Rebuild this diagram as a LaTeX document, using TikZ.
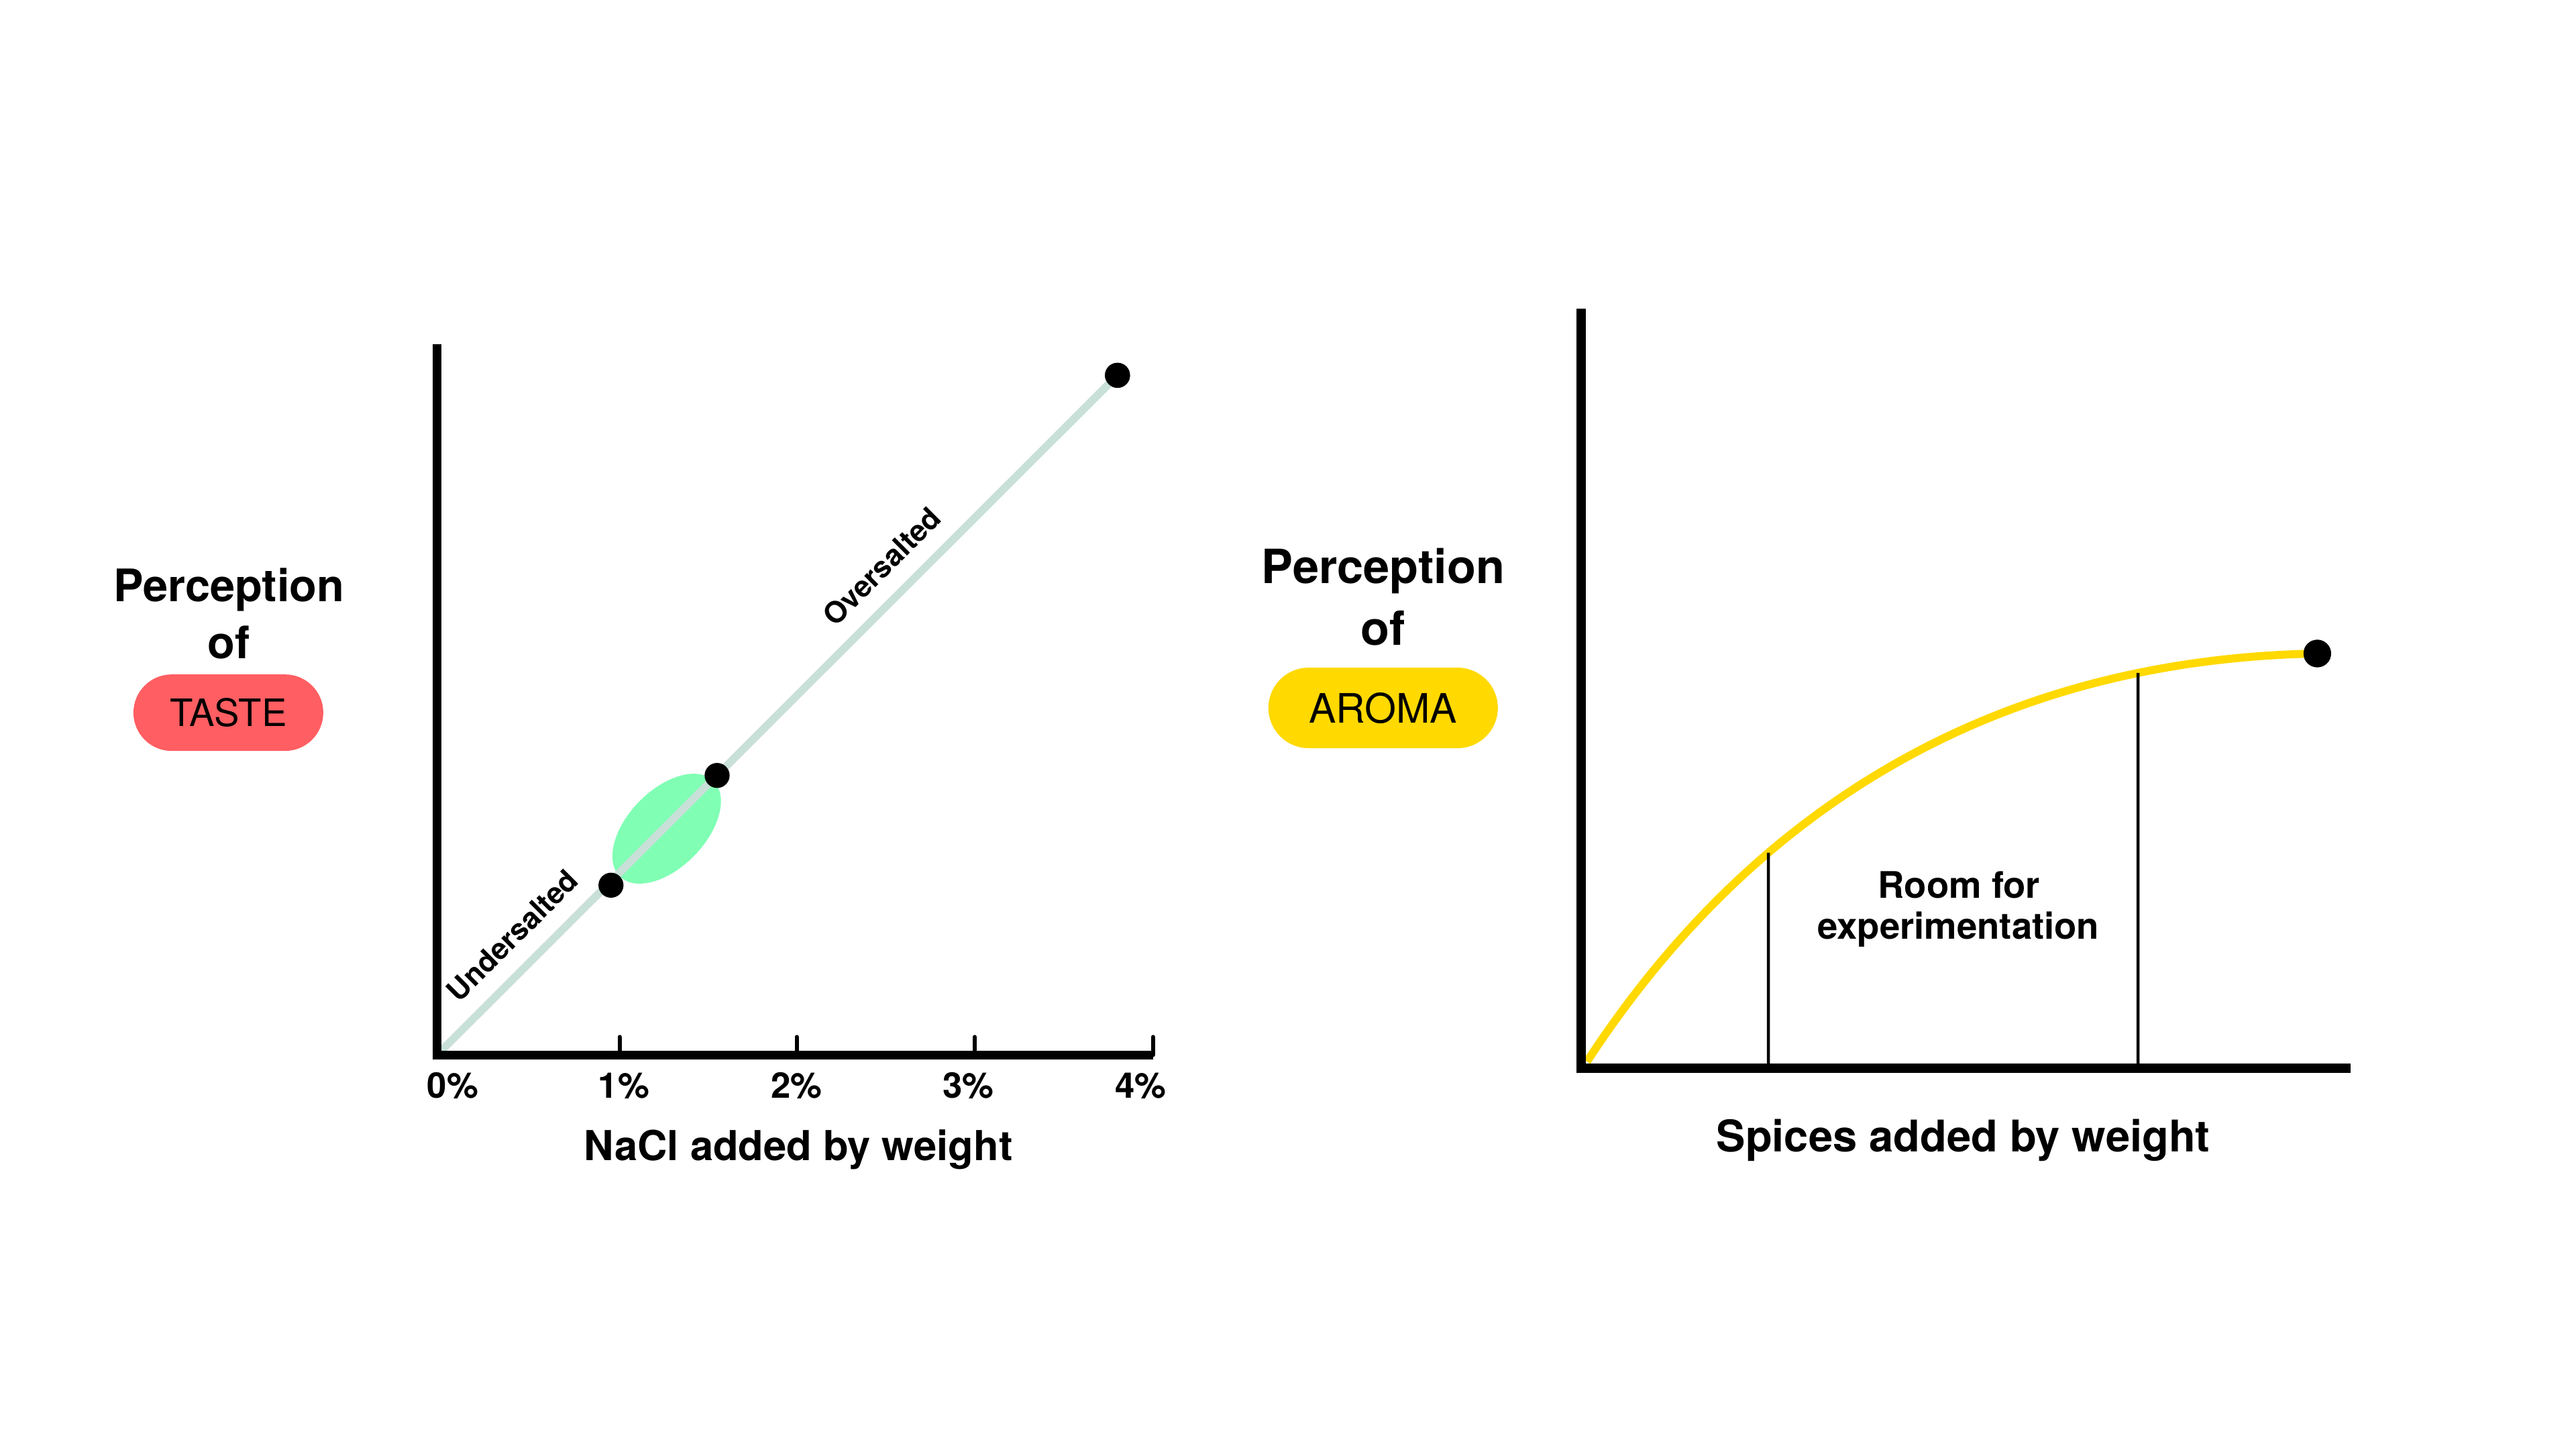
\documentclass[tikz,border=0pt]{standalone}
\usepackage{fontspec}
\setmainfont{TeX Gyre Heros}
\usetikzlibrary{intersections}
\definecolor{saltLine}{RGB}{200,224,216}
\definecolor{optGreen}{RGB}{128,255,180}
\definecolor{tasteRed}{RGB}{255,94,98}
\definecolor{aromaYellow}{RGB}{255,217,0}

\begin{document}
\begin{tikzpicture}[x=0.2449mm,y=0.2449mm,%%
  axisStyle/.style={-,line width=3.6pt,black,line join=miter},%%
  tickStyle/.style={-,line width=1.7pt,black,line cap=round},%%
  saltStyle/.style={-,line width=3.3pt,saltLine},%%
  curveStyle/.style={-,line width=3.4pt,aromaYellow},%%
  guideStyle/.style={-,line width=1.3pt,black},%%
  dotStyle/.style={circle,fill=black,inner sep=0pt,minimum size=3.73mm},%%
  headStyle/.style={font=\bfseries\fontsize{19}{23}\selectfont,inner sep=0pt,anchor=base},%%
  pillStyle/.style={inner sep=0pt,font=\fontsize{16}{19}\selectfont},%%
  tickLabelStyle/.style={font=\bfseries\fontsize{15}{18}\selectfont,inner sep=0pt,anchor=base},%%
  titleStyle/.style={font=\bfseries\fontsize{17.5}{21}\selectfont,inner sep=0pt,anchor=base},%%
  zoneStyle/.style={font=\bfseries\fontsize{12.5}{15}\selectfont,text=black,inner sep=0pt,sloped,above=7pt},%%
  roomStyle/.style={font=\bfseries\fontsize{15.5}{18}\selectfont,inner sep=0pt,anchor=base}
]
\useasboundingbox (0,0) rectangle (1568,-882);
%%
%% Left: perception of taste.
%%
\node[headStyle] (percTaste) at (139.3,-365.9) {Perception};
\node[headStyle] (ofTaste) at (139.3,-400.8) {of};
\node[pillStyle,fill=tasteRed,minimum width=28.3mm,minimum height=11.4mm,
  rounded corners=5.7mm] (tastePill) at (139,-433.7) {TASTE};
%%
%% The salt axes.
\coordinate (oL) at (266,-642);
\coordinate (topL) at (266,-209.6);
\coordinate (endL) at (701.8,-642);
%% The salt line, its sweet spot and its dots.
\fill[optGreen,rotate around={45.7:(405.8,-504.3)}]
  (405.8,-504.3) ellipse[x radius=40.7,y radius=23.5];
\node[dotStyle] (overDot) at (680.2,-228.4) {};
\draw[saltStyle] (oL) --
  node[zoneStyle,pos=0.143] (underLabel) {Undersalted}
  node[zoneStyle,pos=0.686] (overLabel) {Oversalted} (overDot.center);
\node[dotStyle] (underDot) at (371.9,-538.7) {};
\node[dotStyle] (optDot) at (436.5,-471.9) {};
\node[dotStyle] at (overDot) {};
\draw[axisStyle] (topL) -- (oL) -- (endL);
%% Ticks and their labels.
\foreach \tx in {377.1,484.9,593.3,701.8}
  \draw[tickStyle] (\tx,-642) -- (\tx,-631);
\foreach \lx/\pc in {275.6/0,379.7/1,484.8/2,589.4/3,694.4/4}
  \node[tickLabelStyle] (tick\pc) at (\lx,-668.4) {\pc\%};
\node[titleStyle] (naclTitle) at (486,-706.3) {NaCl added by weight};
%%
%% Right: perception of aroma.
%%
\node[headStyle,font=\bfseries\fontsize{20}{24}\selectfont] (percAroma) at (842,-355.2) {Perception};
\node[headStyle,font=\bfseries\fontsize{20}{24}\selectfont] (ofAroma) at (842,-392.7) {of};
\node[pillStyle,fill=aromaYellow,minimum width=34.2mm,minimum height=12mm,
  rounded corners=6mm,font=\fontsize{17.2}{20}\selectfont] (aromaPill) at (841.9,-430.8) {AROMA};
%%
%% The spice axes.
\coordinate (oR) at (962.3,-650);
\coordinate (topR) at (962.3,-188);
\coordinate (endR) at (1430.8,-650);
\coordinate (curveStart) at (966,-646);
%% The curve and its end.
\node[dotStyle,minimum size=4.1mm] (aromaDot) at (1410.5,-397.7) {};
\draw[curveStyle,name path=aromaCurve] (curveStart)
  .. controls (1045,-525) and (1180,-402) .. (aromaDot.center);
\node[dotStyle,minimum size=4.1mm] at (aromaDot) {};
%% The room for experimentation.
\coordinate (guideFootA) at (1076.4,-650);
\coordinate (guideFootB) at (1301.4,-650);
\path[name path=guideA] (guideFootA) -- (1076.4,-300);
\path[name path=guideB] (guideFootB) -- (1301.4,-300);
\path[name intersections={of=aromaCurve and guideA,by=guideTopA}];
\path[name intersections={of=aromaCurve and guideB,by=guideTopB}];
\draw[guideStyle] (guideFootA) -- (guideTopA);
\draw[guideStyle] (guideFootB) -- (guideTopB);
\draw[axisStyle,line width=4pt] (topR) -- (oR) -- (endR);
\node[roomStyle] (roomA) at (1192.5,-546.4) {Room for};
\node[roomStyle] (roomB) at (1192,-571.4) {experimentation};
\node[titleStyle,font=\bfseries\fontsize{18.5}{22}\selectfont] (spiceTitle) at (1195,-701) {Spices added by weight};
\end{tikzpicture}
\end{document}
